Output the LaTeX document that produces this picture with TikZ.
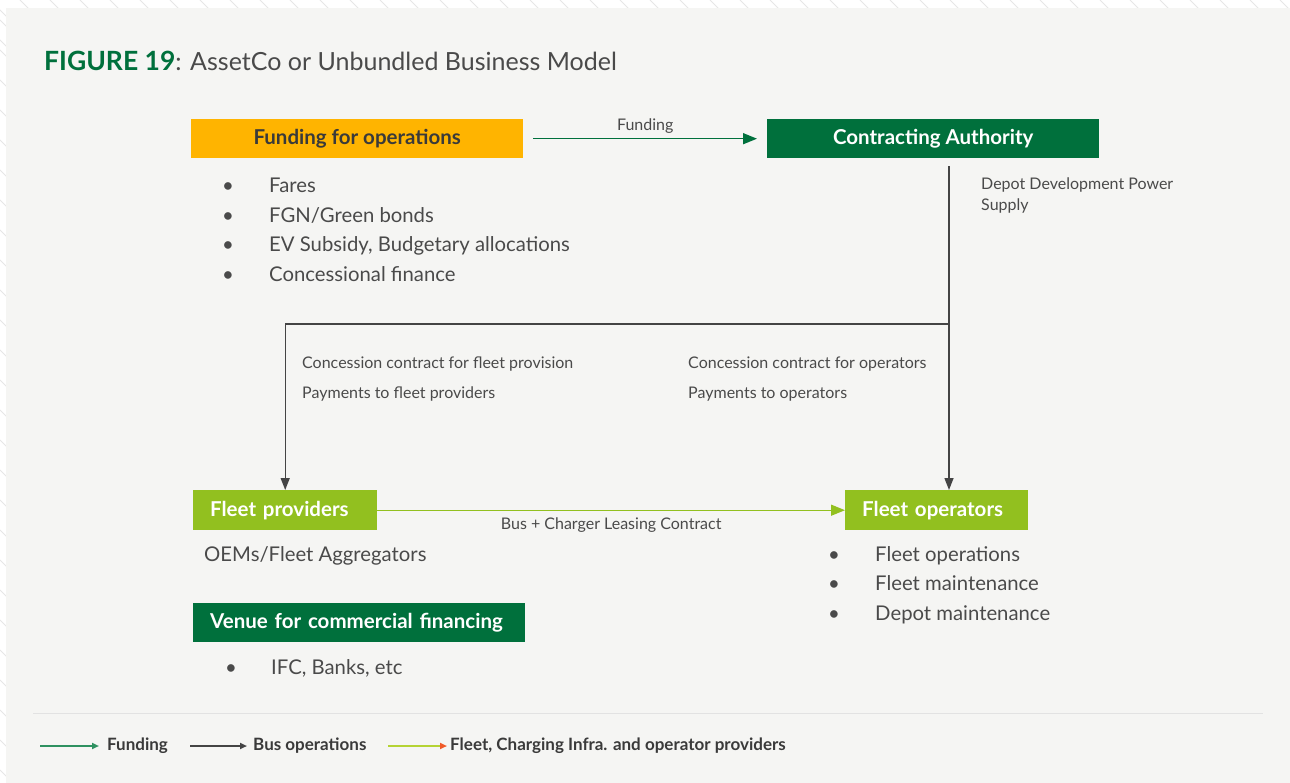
\documentclass[tikz,border=0pt]{standalone}
\usepackage{fontspec}
\setmainfont{Lato}
\usepackage{xcolor}
\usetikzlibrary{arrows.meta,positioning}

\definecolor{panelbg}{HTML}{F5F5F3}
\definecolor{hatchgray}{HTML}{E6E6E6}
\definecolor{fundyellow}{HTML}{FFB400}
\definecolor{darkgreen}{HTML}{00703C}
\definecolor{lime}{HTML}{92C01F}
\definecolor{textdark}{HTML}{3A3A3A}
\definecolor{textgray}{HTML}{4A4A4A}
\definecolor{linegray}{HTML}{444444}
\definecolor{sepgray}{HTML}{E2E2E2}
\definecolor{legfund}{HTML}{2E9160}
\definecolor{leglime}{HTML}{B5D334}
\definecolor{tipred}{HTML}{F05A28}

\begin{document}
\begin{tikzpicture}[
			x=1pt, y=-1pt,
			box/.style={
				rectangle, inner sep=0pt, anchor=north west,
				minimum height=39pt, font=\fontsize{20.5}{22}\selectfont\bfseries
			},
			leftbox/.style={box, align=left, inner xsep=17pt, minimum height=40pt},
			item/.style={anchor=base west, inner sep=0pt, text=textgray, font=\fontsize{20.3}{22}\selectfont},
			note/.style={anchor=base west, inner sep=0pt, text=textgray, font=\fontsize{16}{21}\selectfont},
			legend/.style={anchor=west, inner sep=0pt, text=textdark, font=\fontsize{17}{18}\selectfont\bfseries},
			fundarrow/.style={-{Triangle[length=14pt,width=11pt]}, draw=darkgreen, line width=1.5pt},
			busarrow/.style={-{Triangle[length=12pt,width=9pt]}, draw=linegray, line width=1.4pt},
			leasearrow/.style={-{Triangle[length=14pt,width=11pt]}, draw=lime, line width=1.4pt}
			]
			% page, hatched margin and panel
			\fill[white] (0,0) rectangle (1290,783);
			\begin{scope}
				\clip (0,0) rectangle (6,783) (0,0) rectangle (1290,8);
				\foreach \k in {-40,-10,...,1300}
					\draw[hatchgray, line width=1pt] (\k,0) -- (\k+800,800);
				\foreach \k in {20,50,...,800}
					\draw[hatchgray, line width=1pt] (0,\k) -- (30,\k+30);
			\end{scope}
			\fill[panelbg] (6,8) rectangle (1290,783);

			% title
			\node[anchor=base west, inner sep=0pt, font=\fontsize{25}{28}\selectfont] (title) at (44,71)
				{\textcolor{darkgreen}{\bfseries\fontsize{26.5}{28}\selectfont FIGURE 19}\textcolor{textgray}{: AssetCo or Unbundled Business Model}};

			% top row
			\node[box, fill=fundyellow, text=textdark, minimum width=332pt] (fund) at (191,119) {Funding for operations};
			\node[box, fill=darkgreen, text=white, minimum width=332pt] (ca) at (767,119) {Contracting Authority};
			\draw[fundarrow] ([xshift=10pt]fund.east) -- node[above=5pt, inner sep=0pt, text=textgray, font=\fontsize{16}{18}\selectfont] (fundlbl) {Funding} ([xshift=-10pt]ca.west);

			\foreach \t [count=\i] in {Fares, FGN/Green bonds, {EV Subsidy, Budgetary allocations}, Concessional finance}
				\node[item] (fl\i) at (222,193+29.4*\i-29.4) {\makebox[47pt][l]{\textbullet}\t};

			\node[note, anchor=west, align=left] (depot) at (981,195) {Depot Development Power\\Supply};

			% bus operations lines
			\coordinate (split) at (949,324);
			\node[box, fill=lime, text=white, leftbox, text width=150pt] (prov) at (193,490) {Fleet providers};
			\node[box, fill=lime, text=white, leftbox, text width=149pt] (ops) at (845,490) {Fleet operators};
			\draw[busarrow] ([yshift=-8pt]ca.south -| split) -- (split |- ops.north);
			\draw[busarrow] (split) -| (prov.north);

			\node[note] (cfleet) at (302,369) {Concession contract for fleet provision};
			\node[note] (pfleet) at (302,398) {Payments to fleet providers};
			\node[note] (cops) at (688,369) {Concession contract for operators};
			\node[note] (pops) at (688,398) {Payments to operators};

			% leasing
			\draw[leasearrow] (prov.east) -- node[below=7pt, inner sep=0pt, text=textgray, font=\fontsize{16}{18}\selectfont] (leaselbl) {Bus + Charger Leasing Contract} (ops.west);

			\node[item] (oem) at (204,561) {OEMs/Fleet Aggregators};
			\foreach \t [count=\i] in {Fleet operations, Fleet maintenance, Depot maintenance}
				\node[item] (ol\i) at (828,561+29.5*\i-29.5) {\makebox[47pt][l]{\textbullet}\t};

			% commercial financing
			\node[box, fill=darkgreen, text=white, leftbox, text width=298pt, minimum height=39pt] (venue) at (193,603) {Venue for commercial financing};
			\node[item] (ifc) at (225,674) {\makebox[46pt][l]{\textbullet}IFC, Banks, etc};

			% legend
			\draw[sepgray, line width=1pt] (33,713) -- (1263,713);
			\node[legend] (lgfund) at (107,746) {Funding};
			\node[legend] (lgbus) at (253,746) {Bus operations};
			\node[legend] (lgfleet) at (450,746) {Fleet, Charging Infra. and operator providers};
			\coordinate (lg1) at (40,746);
			\coordinate (lg2) at (190,746);
			\coordinate (lg3) at (388,746);
			\draw[-{Triangle[length=7pt,width=6pt]}, legfund, line width=2pt] (lg1) -- ([xshift=-8pt]lgfund.west);
			\draw[-{Triangle[length=7pt,width=6pt]}, linegray, line width=2pt] (lg2) -- ([xshift=-6pt]lgbus.west);
			\draw[-{Triangle[length=7pt,width=6pt,color=tipred]}, leglime, line width=2pt] (lg3) -- ([xshift=-3pt]lgfleet.west);
		\end{tikzpicture}
\end{document}
